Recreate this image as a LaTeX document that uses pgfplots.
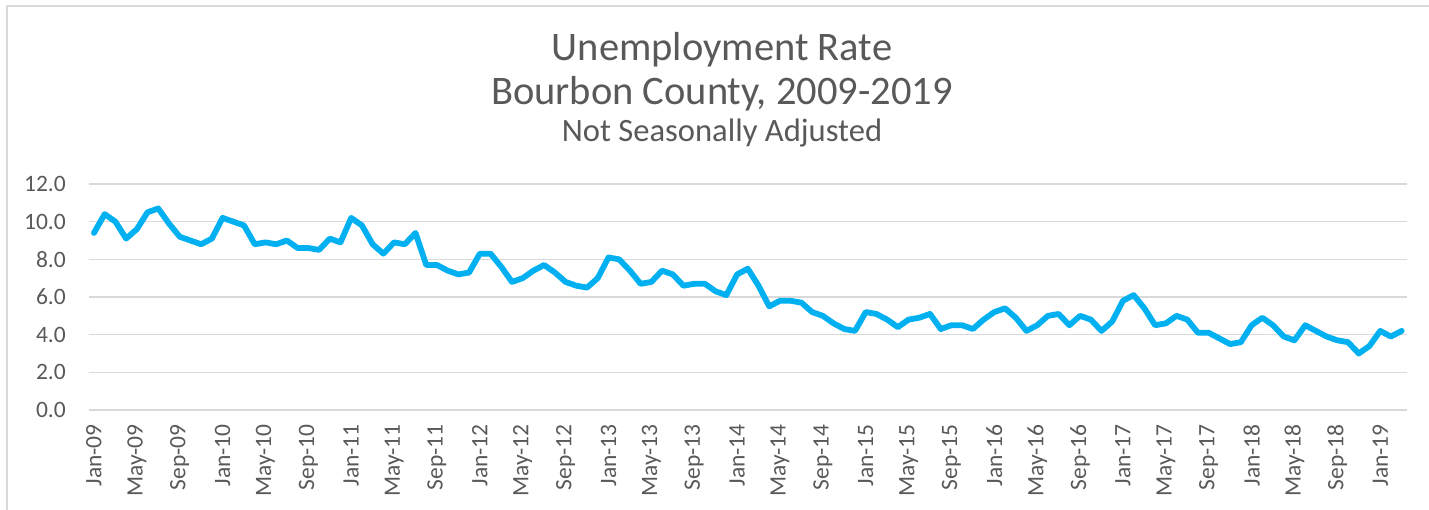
\documentclass[border=0pt]{standalone}
\usepackage{pgfplots}
\pgfplotsset{compat=1.18}
\usepackage{fontspec}
\setmainfont{Carlito}
\definecolor{lineblue}{HTML}{00B0F0}
\definecolor{labelgray}{HTML}{595959}
\definecolor{gridgray}{HTML}{D9D9D9}
\begin{document}
\begin{tikzpicture}
\useasboundingbox (0,0) rectangle (1429bp,510bp);
\draw[gridgray, line width=2bp] (7bp,-5bp) -- (7bp,504bp) -- (1435bp,504bp);
\begin{axis}[
  at={(88.6bp,100bp)}, anchor=south west,
  scale only axis, width=1318.4bp, height=226bp,
  xmin=-0.5, xmax=122.5, ymin=0, ymax=12,
  axis line style={draw=none},
  major tick length=0pt,
  ytick={0,2,4,6,8,10,12},
  ymajorgrids,
  grid style={color=gridgray, line width=1.5bp},
  /pgf/number format/assume math mode=true,
  yticklabel style={/pgf/number format/fixed, /pgf/number format/fixed zerofill, /pgf/number format/precision=1, inner sep=0pt},
  yticklabel shift=22.6bp,
  xtick={0,4,...,120},
  xticklabels={Jan-09,May-09,Sep-09,Jan-10,May-10,Sep-10,Jan-11,May-11,Sep-11,Jan-12,May-12,Sep-12,Jan-13,May-13,Sep-13,Jan-14,May-14,Sep-14,Jan-15,May-15,Sep-15,Jan-16,May-16,Sep-16,Jan-17,May-17,Sep-17,Jan-18,May-18,Sep-18,Jan-19},
  xticklabel style={rotate=90, anchor=east, inner sep=0pt},
  xticklabel shift=14bp,
  tick label style={font=\fontsize{23.5bp}{27bp}\selectfont, text=labelgray},
  clip=false,
]
\addplot[color=lineblue, line width=5.8bp, line join=round, line cap=round, mark=none] table {
x y
0 9.4
1 10.4
2 10.0
3 9.1
4 9.6
5 10.5
6 10.7
7 9.9
8 9.2
9 9.0
10 8.8
11 9.1
12 10.2
13 10.0
14 9.8
15 8.8
16 8.9
17 8.8
18 9.0
19 8.6
20 8.6
21 8.5
22 9.1
23 8.9
24 10.2
25 9.8
26 8.8
27 8.3
28 8.9
29 8.8
30 9.4
31 7.7
32 7.7
33 7.4
34 7.2
35 7.3
36 8.3
37 8.3
38 7.6
39 6.8
40 7.0
41 7.4
42 7.7
43 7.3
44 6.8
45 6.6
46 6.5
47 7.0
48 8.1
49 8.0
50 7.4
51 6.7
52 6.8
53 7.4
54 7.2
55 6.6
56 6.7
57 6.7
58 6.3
59 6.1
60 7.2
61 7.5
62 6.6
63 5.5
64 5.8
65 5.8
66 5.7
67 5.2
68 5.0
69 4.6
70 4.3
71 4.2
72 5.2
73 5.1
74 4.8
75 4.4
76 4.8
77 4.9
78 5.1
79 4.3
80 4.5
81 4.5
82 4.3
83 4.8
84 5.2
85 5.4
86 4.9
87 4.2
88 4.5
89 5.0
90 5.1
91 4.5
92 5.0
93 4.8
94 4.2
95 4.7
96 5.8
97 6.1
98 5.4
99 4.5
100 4.6
101 5.0
102 4.8
103 4.1
104 4.1
105 3.8
106 3.5
107 3.6
108 4.5
109 4.9
110 4.5
111 3.9
112 3.7
113 4.5
114 4.2
115 3.9
116 3.7
117 3.6
118 3.0
119 3.4
120 4.2
121 3.9
122 4.2
};
\end{axis}
\node[anchor=base, inner sep=0pt, text=labelgray, font=\fontsize{40.5bp}{48bp}\selectfont] at (722bp,449bp) {Unemployment Rate};
\node[anchor=base, inner sep=0pt, text=labelgray, font=\fontsize{40.5bp}{48bp}\selectfont] at (722bp,405bp) {Bourbon County, 2009-2019};
\node[anchor=base, inner sep=0pt, text=labelgray, font=\fontsize{32.6bp}{38bp}\selectfont] at (722bp,368bp) {Not Seasonally Adjusted};
\end{tikzpicture}
\end{document}
